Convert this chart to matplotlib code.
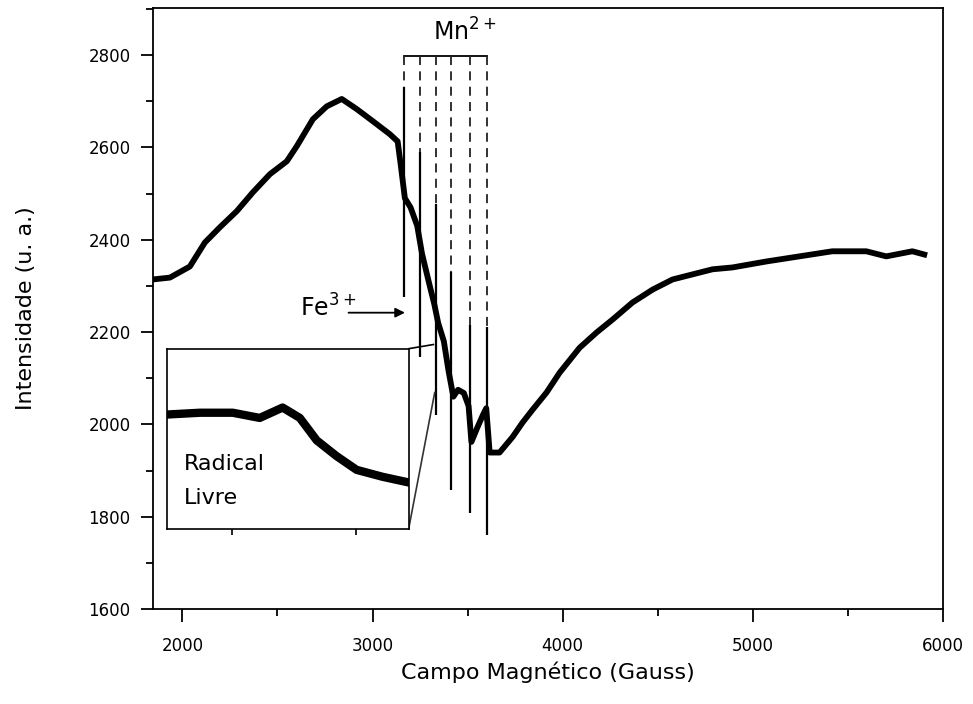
import matplotlib
matplotlib.use('Agg')
import matplotlib.pyplot as plt
from matplotlib.ticker import MultipleLocator

plt.rcParams['font.family'] = ['DejaVu Sans']

# broad EPR trace (field in gauss, intensity in a.u.)
campo = [1845, 1934, 2039, 2118, 2197, 2286, 2371, 2460, 2549, 2602, 2686,
         2759, 2838, 2917, 3001, 3090, 3132, 3148, 3170, 3200, 3235, 3260,
         3295, 3325, 3345, 3375, 3400, 3425, 3450, 3480, 3505, 3520, 3550,
         3580, 3598, 3616, 3668, 3737, 3789, 3842, 3915, 3984, 4089, 4178,
         4262, 4367, 4473, 4578, 4683, 4788, 4893, 5072, 5245, 5418, 5597,
         5702, 5839, 5902]
intensidade = [2314, 2318, 2342, 2394, 2427, 2462, 2503, 2542, 2570, 2603, 2661,
               2689, 2705, 2683, 2657, 2629, 2613, 2563, 2490, 2470, 2430, 2370,
               2310, 2260, 2220, 2180, 2115, 2060, 2075, 2068, 2040, 1962, 1992,
               2020, 2035, 1939, 1939, 1973, 2004, 2032, 2069, 2112, 2166, 2199,
               2227, 2264, 2292, 2314, 2325, 2336, 2340, 2353, 2364, 2375, 2375,
               2364, 2375, 2368]

# sharp lines (Fe3+ and the Mn2+ hyperfine sextet)
linhas_campo = [3165, 3250, 3332, 3414, 3513, 3603]
linhas_topo = [2731, 2590, 2477, 2331, 2216, 2212]
linhas_base = [2275, 2147, 2021, 1858, 1808, 1761]

# zoomed free radical signal for the inset
radical_campo = [3322.44, 3323.72, 3325.04, 3326.12, 3327.04, 3327.73,
                 3328.41, 3329.20, 3330.01, 3331.05, 3332.01]
radical_int = [2135, 2136, 2136, 2133, 2139, 2133, 2120, 2111, 2103, 2099, 2096]

fig = plt.figure(figsize=(9.73, 7.04), dpi=100)
ax = fig.add_axes([0.1572, 0.1349, 0.8119, 0.8537])

ax.plot(campo, intensidade, color='black', lw=4.2, solid_joinstyle='round')
ax.vlines(linhas_campo, linhas_base, linhas_topo, color='black', lw=1.6)

ax.set_xlim(1845, 6000)
ax.set_ylim(1600, 2902)
ax.xaxis.set_major_locator(MultipleLocator(1000))
ax.xaxis.set_minor_locator(MultipleLocator(500))
ax.yaxis.set_major_locator(MultipleLocator(200))
ax.yaxis.set_minor_locator(MultipleLocator(100))
ax.tick_params(which='both', direction='out', width=1.3, top=False, right=False)
ax.tick_params(which='major', length=9, labelsize=12, pad=7)
ax.tick_params(axis='x', which='major', pad=11)
ax.tick_params(which='minor', length=5)
for s in ax.spines.values():
    s.set_linewidth(1.3)

ax.set_xlabel('Campo Magnético (Gauss)', fontsize=16, labelpad=5)
ax.set_ylabel('Intensidade (u. a.)', fontsize=16, labelpad=38)

# Mn2+ bracket with dashed drop lines
ax.plot([linhas_campo[0], linhas_campo[-1]], [2798, 2798], color='black', lw=1.3)
for xc, yt in zip(linhas_campo, linhas_topo):
    ax.plot([xc, xc], [2798, yt], color='#222222', lw=1.3, ls=(0, (5, 3.5)))
ax.text(3485, 2850, 'Mn$^{2+}$', fontsize=17, ha='center', va='center')

# Fe3+ arrow
ax.annotate('', xy=(3185, 2242), xytext=(2859, 2242),
            arrowprops=dict(arrowstyle='-|>', color='black', lw=1.3,
                            mutation_scale=14))
ax.text(2617, 2253, 'Fe$^{3+}$', fontsize=17, ha='left', va='center')

# inset with the free radical signal
ins = ax.inset_axes([1919, 1774, 1271, 390], transform=ax.transData)
ins.plot(radical_campo, radical_int, color='black', lw=6, solid_joinstyle='round')
ins.set_xlim(3322.4, 3332.1)
ins.set_ylim(2069, 2173)
ins.set_xticks([3325, 3330])
ins.set_yticks([])
ins.tick_params(axis='x', direction='out', length=4, width=1.2, labelbottom=False)
for s in ins.spines.values():
    s.set_linewidth(1.2)
ins.text(0.07, 0.36, 'Radical', transform=ins.transAxes, fontsize=16, va='center')
ins.text(0.07, 0.17, 'Livre', transform=ins.transAxes, fontsize=16, va='center')

# connector lines from inset to zoomed region
ax.plot([3190, 3320], [2164, 2173], color='black', lw=1.2)
ax.plot([3190, 3327], [1774, 2069], color='#333333', lw=1.2)

fig.savefig('out.png', dpi=100)
